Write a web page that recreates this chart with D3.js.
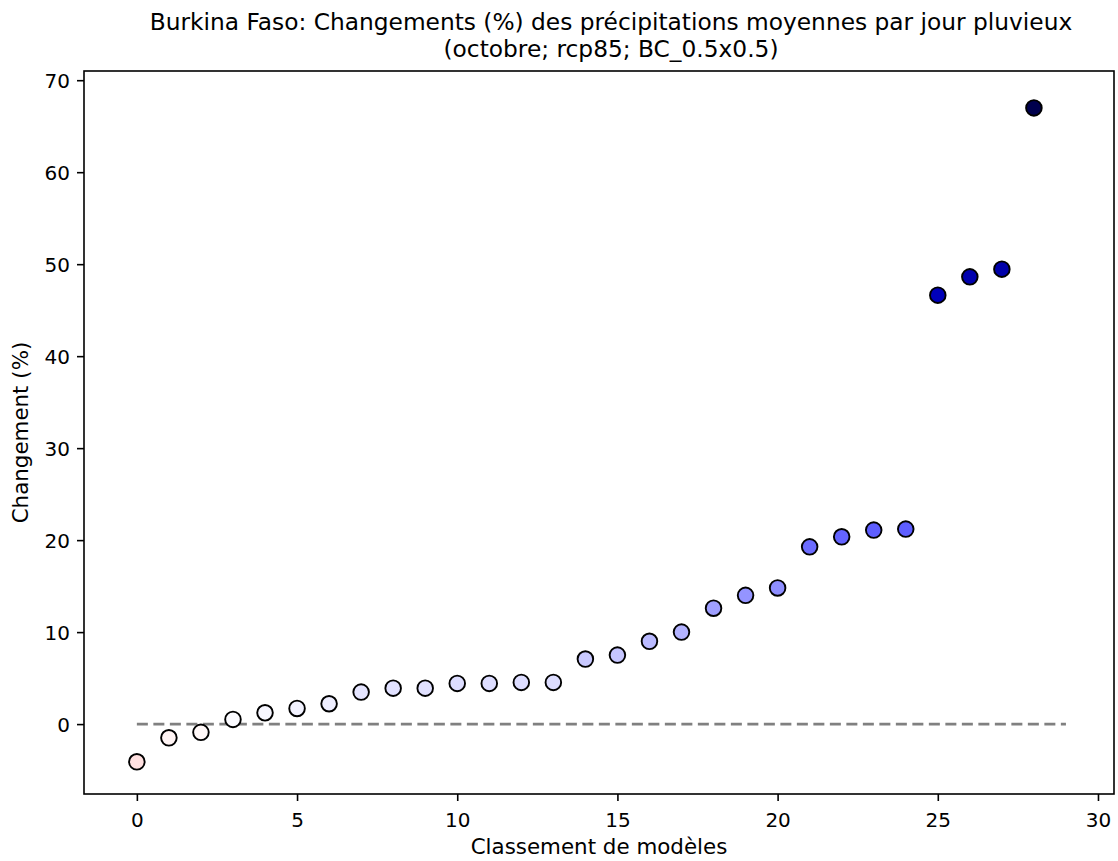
<!DOCTYPE html>
<html><head><meta charset="utf-8">
<script src="https://cdn.jsdelivr.net/npm/d3@7"></script>
<style>body{margin:0;background:#fff}text{font-family:"DejaVu Sans",sans-serif;fill:#000}</style>
</head><body><svg id="c" width="1118" height="861"></svg>
<script>
const ranks = d3.range(29);
const values = [-4.1,-1.49,-0.9,0.51,1.23,1.7,2.21,3.48,3.91,3.91,4.42,4.42,4.53,4.53,7.07,7.5,9.0,10.0,12.6,14.0,14.8,19.27,20.36,21.09,21.2,46.63,48.62,49.46,66.99];
const xTicks = [0,5,10,15,20,25,30];
const yTicks = [0,10,20,30,40,50,60,70];
const titleLines = ["Burkina Faso: Changements (%) des précipitations moyennes par jour pluvieux","(octobre; rcp85; BC_0.5x0.5)"];
const xLabel = "Classement de modèles";
const yLabel = "Changement (%)";
const refLine = [0, 29];

const svg = d3.select("#c");
const L=84,T=71,R=1114,B=794;
const x = d3.scaleLinear().domain([-1.65,30.5]).range([L,R]);
const y = d3.scaleLinear().domain([-7.6,71.0]).range([B,T]);

// seismic colormap reversed
function seismic(t){
  const r=[[0,0],[0.25,0],[0.5,1],[0.75,1],[1,0.5]];
  const g=[[0,0],[0.25,0],[0.5,1],[0.75,0],[1,0]];
  const b=[[0,0.3],[0.25,1],[0.5,1],[0.75,0],[1,0]];
  const f=(s)=>{for(let i=1;i<s.length;i++){if(t<=s[i][0]){const a=s[i-1],c=s[i];return a[1]+(c[1]-a[1])*(t-a[0])/(c[0]-a[0]);}}return s[s.length-1][1];};
  return d3.rgb(f(r)*255,f(g)*255,f(b)*255);
}
const vmax = d3.max(values, v=>Math.abs(v));
const norm = d3.scaleLinear().domain([-vmax,vmax]).range([0,1]).clamp(true);
const color = v => seismic(1-norm(v));

svg.append("line").attr("x1",x(refLine[0])).attr("x2",x(refLine[1])).attr("y1",y(0)).attr("y2",y(0))
  .attr("stroke","#808080").attr("stroke-width",2.8).attr("stroke-dasharray","11,5.5");

svg.append("g").selectAll("circle").data(values).join("circle")
  .attr("cx",(d,i)=>x(ranks[i])).attr("cy",d=>y(d)).attr("r",7.8)
  .attr("fill",d=>color(d)).attr("stroke","#000").attr("stroke-width",1.9);

svg.append("rect").attr("x",L).attr("y",T).attr("width",R-L).attr("height",B-T)
  .attr("fill","none").attr("stroke","#000").attr("stroke-width",1.6);

const xa = svg.append("g").attr("transform",`translate(0,${B})`)
  .call(d3.axisBottom(x).tickValues(xTicks).tickSize(7).tickPadding(6).tickFormat(d3.format("d")));
const ya = svg.append("g").attr("transform",`translate(${L},0)`)
  .call(d3.axisLeft(y).tickValues(yTicks).tickSize(7).tickPadding(7).tickFormat(d3.format("d")));
[xa,ya].forEach(a=>{a.select(".domain").remove();a.selectAll("line").attr("stroke","#000").attr("stroke-width",1.6);
  a.selectAll("text").attr("font-size",20).attr("font-family","DejaVu Sans").attr("fill","#000");});
xa.selectAll("text").attr("y",33).attr("dy",null);
ya.selectAll("text").attr("dy","0.36em");

svg.append("text").attr("x",(L+R)/2).attr("y",854).attr("text-anchor","middle").attr("font-size",21.4).text(xLabel);
svg.append("text").attr("transform",`translate(28,${(T+B)/2}) rotate(-90)`).attr("text-anchor","middle").attr("font-size",21.4).text(yLabel);
titleLines.forEach((t,i)=>svg.append("text").attr("x",611).attr("y",30+i*27).attr("text-anchor","middle").attr("font-size",23.3).text(t));
</script></body></html>
